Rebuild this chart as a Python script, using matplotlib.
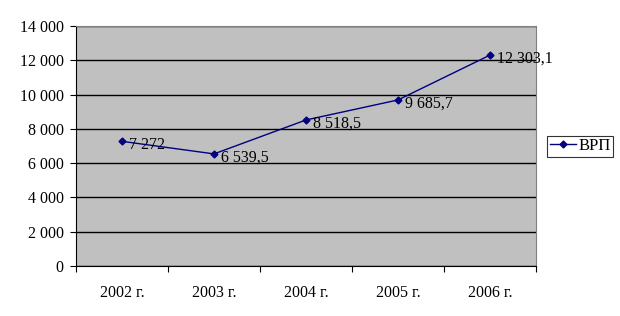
import matplotlib.pyplot as plt
from matplotlib.ticker import FuncFormatter, MultipleLocator

years = ['2002 г.', '2003 г.', '2004 г.', '2005 г.', '2006 г.']
vrp = [7272, 6539.5, 8518.5, 9685.7, 12303.1]
labels = ['7 272', '6 539,5', '8 518,5', '9 685,7', '12 303,1']

plt.rcParams['font.family'] = ['Liberation Serif', 'DejaVu Serif']

fig = plt.figure(figsize=(6.2, 3.16), dpi=100)
ax = fig.add_axes([76 / 620, 1 - 266 / 316, 460 / 620, 240 / 316])
ax.set_facecolor('#C0C0C0')

x = [i + 0.5 for i in range(len(years))]
ax.plot(x, vrp, color='#000080', lw=1, marker='D', ms=3.5, label='ВРП')
for xi, v, t in zip(x, vrp, labels):
    ax.annotate(t, (xi, v), xytext=(5, -2.5), textcoords='offset points',
                va='center', ha='left', fontsize=11.5)

ax.set_xlim(0, len(years))
ax.set_ylim(0, 14000)
ax.yaxis.set_major_locator(MultipleLocator(2000))
ax.yaxis.set_major_formatter(FuncFormatter(lambda v, p: f'{int(v):,}'.replace(',', ' ')))
ax.set_xticks(range(len(years) + 1))
ax.set_xticklabels([])
ax.set_xticks(x, minor=True)
ax.set_xticklabels(years, minor=True)
ax.tick_params(axis='x', which='minor', length=0, pad=14, labelsize=11.5)
ax.tick_params(axis='x', which='major', length=4, direction='out')
ax.tick_params(axis='y', length=4, direction='out', labelsize=11.5, pad=5)
ax.grid(axis='y', color='black', lw=1)
ax.set_axisbelow(True)

ax.spines['top'].set_color('#808080')
ax.spines['right'].set_color('#808080')

leg = fig.legend(loc='center left', bbox_to_anchor=(547 / 620, 1 - 146 / 316),
                 frameon=True, fancybox=False, edgecolor='black', fontsize=12,
                 handlelength=1.6, borderpad=0.15, handletextpad=0.15, borderaxespad=0)
leg.get_frame().set_linewidth(0.8)

fig.savefig('out.png', dpi=100)
